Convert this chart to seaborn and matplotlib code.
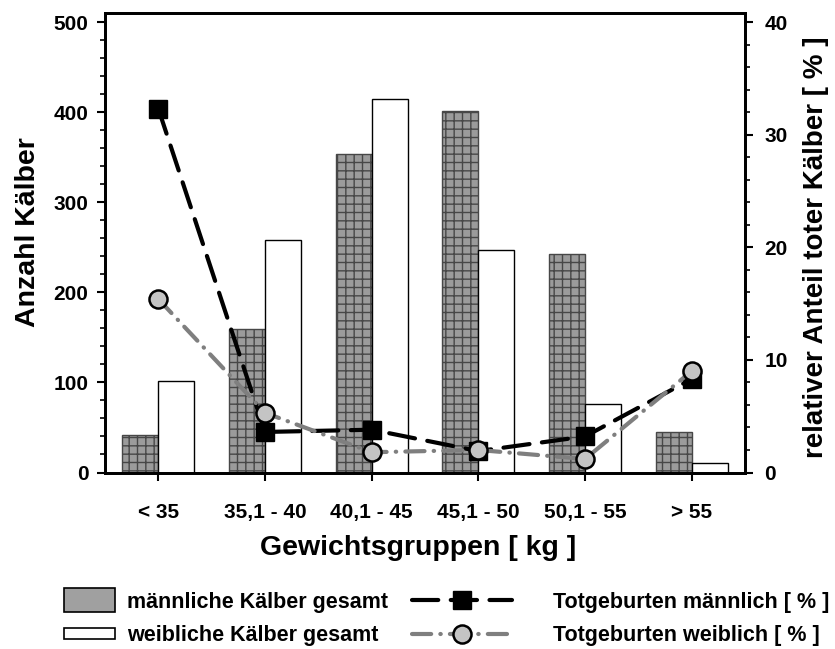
import numpy as np
import pandas as pd
import matplotlib
matplotlib.use("Agg")
import matplotlib.pyplot as plt
from matplotlib.patches import Rectangle
from matplotlib.lines import Line2D
from matplotlib.legend_handler import HandlerPatch
from matplotlib.ticker import MultipleLocator
import seaborn as sns

# ---- data ---------------------------------------------------------------
gruppen = ["< 35", "35,1 - 40", "40,1 - 45", "45,1 - 50", "50,1 - 55", "> 55"]
anzahl_maennlich = [42, 159, 354, 401, 242, 45]
anzahl_weiblich = [102, 258, 414, 247, 76, 10]
totgeburten_maennlich = [32.3, 3.6, 3.8, 1.9, 3.2, 8.3]
totgeburten_weiblich = [15.4, 5.3, 1.8, 2.0, 1.2, 9.0]

label_m = "männliche Kälber gesamt"
label_w = "weibliche Kälber gesamt"
label_tm = "Totgeburten männlich [ % ]"
label_tw = "Totgeburten weiblich [ % ]"

# ---- style --------------------------------------------------------------
sns.set_style("ticks")
plt.rcParams["font.family"] = ["Liberation Sans", "DejaVu Sans"]
plt.rcParams["font.weight"] = "bold"
plt.rcParams["axes.labelweight"] = "bold"
plt.rcParams["text.color"] = "black"
plt.rcParams["axes.labelcolor"] = "black"
plt.rcParams["xtick.color"] = "black"
plt.rcParams["ytick.color"] = "black"
plt.rcParams["xtick.labelcolor"] = "black"
plt.rcParams["ytick.labelcolor"] = "black"
plt.rcParams["hatch.linewidth"] = 1.0
plt.rcParams["hatch.color"] = "#474747"

df = pd.DataFrame({
    "gruppe": gruppen * 2,
    "anzahl": anzahl_maennlich + anzahl_weiblich,
    "geschlecht": ["m"] * len(gruppen) + ["w"] * len(gruppen),
})

fig = plt.figure(figsize=(8.35, 6.49), dpi=100)
ax = fig.add_axes([105 / 835, 1 - 472.5 / 649, 640 / 835, 459.5 / 649])

sns.barplot(data=df, x="gruppe", y="anzahl", hue="geschlecht",
            order=gruppen, hue_order=["m", "w"],
            palette={"m": "#9b9b9b", "w": "white"},
            width=0.675, gap=0, dodge=True, legend=False, ax=ax,
            errorbar=None, saturation=1)

male_bars, female_bars = ax.containers[0], ax.containers[1]
for p in male_bars:
    p.set_edgecolor("#474747")
    p.set_linewidth(1.0)
    p.set_hatch("++")
for p in female_bars:
    p.set_edgecolor("black")
    p.set_linewidth(1.0)

ax.set_xlim(-0.5, 5.5)
ax.set_ylim(0, 510)
ax.yaxis.set_major_locator(MultipleLocator(100))
ax.yaxis.set_minor_locator(MultipleLocator(20))

# ---- percentage lines on the secondary axis ------------------------------
ax2 = ax.twinx()
pos = np.arange(len(gruppen))
sns.lineplot(x=pos, y=totgeburten_maennlich, ax=ax2, color="black",
             linewidth=3.0, marker="s", markersize=12.5,
             markerfacecolor="black", markeredgecolor="black",
             markeredgewidth=1.0)
line_m = ax2.get_lines()[-1]
line_m.set_dashes((6.3, 3))
line_m.set_dash_capstyle("round")

sns.lineplot(x=pos, y=totgeburten_weiblich, ax=ax2, color="#7f7f7f",
             linewidth=3.0, marker="o", markersize=13,
             markerfacecolor="#c4c4c4", markeredgecolor="black",
             markeredgewidth=1.8)
line_w = ax2.get_lines()[-1]
line_w.set_dashes((4.6, 2.2, 0.1, 2.2))
line_w.set_dash_capstyle("round")

ax2.set_ylim(0, 40.8)
ax2.yaxis.set_major_locator(MultipleLocator(10))
ax2.yaxis.set_minor_locator(MultipleLocator(2))
ax2.set_xlim(-0.5, 5.5)

# ---- axes cosmetics -------------------------------------------------------
for a in (ax, ax2):
    for s in a.spines.values():
        s.set_visible(True)
        s.set_linewidth(2.0)
        s.set_color("black")

ax.tick_params(axis="y", which="major", direction="out", length=6, width=1.5,
               labelsize=15, pad=6, left=True, right=False, colors="black")
ax.tick_params(axis="y", which="minor", direction="out", length=3.6, width=1.2,
               left=True, right=False, colors="black")
ax.tick_params(axis="x", which="major", direction="out", length=6, width=1.5,
               labelsize=15, pad=16, bottom=True, top=False, colors="black")
ax2.tick_params(axis="y", which="major", direction="out", length=6, width=1.5,
                labelsize=15, pad=8, right=True, left=False, colors="black")
ax2.tick_params(axis="y", which="minor", direction="out", length=3.6, width=1.2,
                right=True, left=False, colors="black")
ax2.tick_params(axis="x", bottom=False, top=False, labelbottom=False)

ax.set_xticks(pos)
ax.set_xticklabels(gruppen)
for t in ax.get_xticklabels() + ax.get_yticklabels() + ax2.get_yticklabels():
    t.set_fontweight("bold")
    t.set_color("black")

ax.set_xlabel("Gewichtsgruppen [ kg ]", fontsize=20.5, fontweight="bold",
              color="black")
ax.set_ylabel("Anzahl Kälber", fontsize=20.5, fontweight="bold",
              color="black")
ax2.set_ylabel("relativer Anteil toter Kälber [ % ]", fontsize=20,
               fontweight="bold", color="black")
ax.xaxis.set_label_coords(0.49, -0.135)
ax.yaxis.set_label_coords(-0.100, 0.524)
ax2.yaxis.set_label_coords(1.090, 0.49)

# ---- legends below the plot ----------------------------------------------
def rect_handler(h_pt):
    def make(legend, orig_handle, xdescent, ydescent, width, height, fontsize):
        return Rectangle((-xdescent, -ydescent + height / 2 - h_pt / 2),
                         width, h_pt)
    return HandlerPatch(patch_func=make)

h_m = Rectangle((0, 0), 1, 1, facecolor="#a0a0a0", edgecolor="black", lw=1.2)
h_w = Rectangle((0, 0), 1, 1, facecolor="white", edgecolor="black", lw=1.2)
leg1 = fig.legend(handles=[h_m, h_w], labels=[label_m, label_w],
                  handler_map={h_m: rect_handler(17.0), h_w: rect_handler(8.0)},
                  loc="center left", bbox_to_anchor=(64 / 835, 1 - 619 / 649),
                  frameon=False, handlelength=2.37,
                  handletextpad=0.56, labelspacing=0.6, borderpad=0,
                  borderaxespad=0, prop={"weight": "bold", "size": 15.5},
                  labelcolor="black")

hl_m = Line2D([], [], color="black", lw=3.0, dashes=(6.3, 3),
              dash_capstyle="round", marker="s", markersize=12.5,
              markerfacecolor="black", markeredgecolor="black")
hl_w = Line2D([], [], color="#7f7f7f", lw=3.0, dashes=(4.6, 2.2, 0.1, 2.2),
              dash_capstyle="round", marker="o", markersize=13,
              markerfacecolor="#c4c4c4", markeredgecolor="black",
              markeredgewidth=1.8)
leg2 = fig.legend(handles=[hl_m, hl_w], labels=[label_tm, label_tw],
                  loc="center left", bbox_to_anchor=(412 / 835, 1 - 619 / 649),
                  frameon=False, handlelength=4.65, handletextpad=1.9,
                  labelspacing=0.6, borderpad=0, borderaxespad=0,
                  numpoints=1, prop={"weight": "bold", "size": 15.5},
                  labelcolor="black")

fig.savefig("out.png", dpi=100, facecolor="white")
